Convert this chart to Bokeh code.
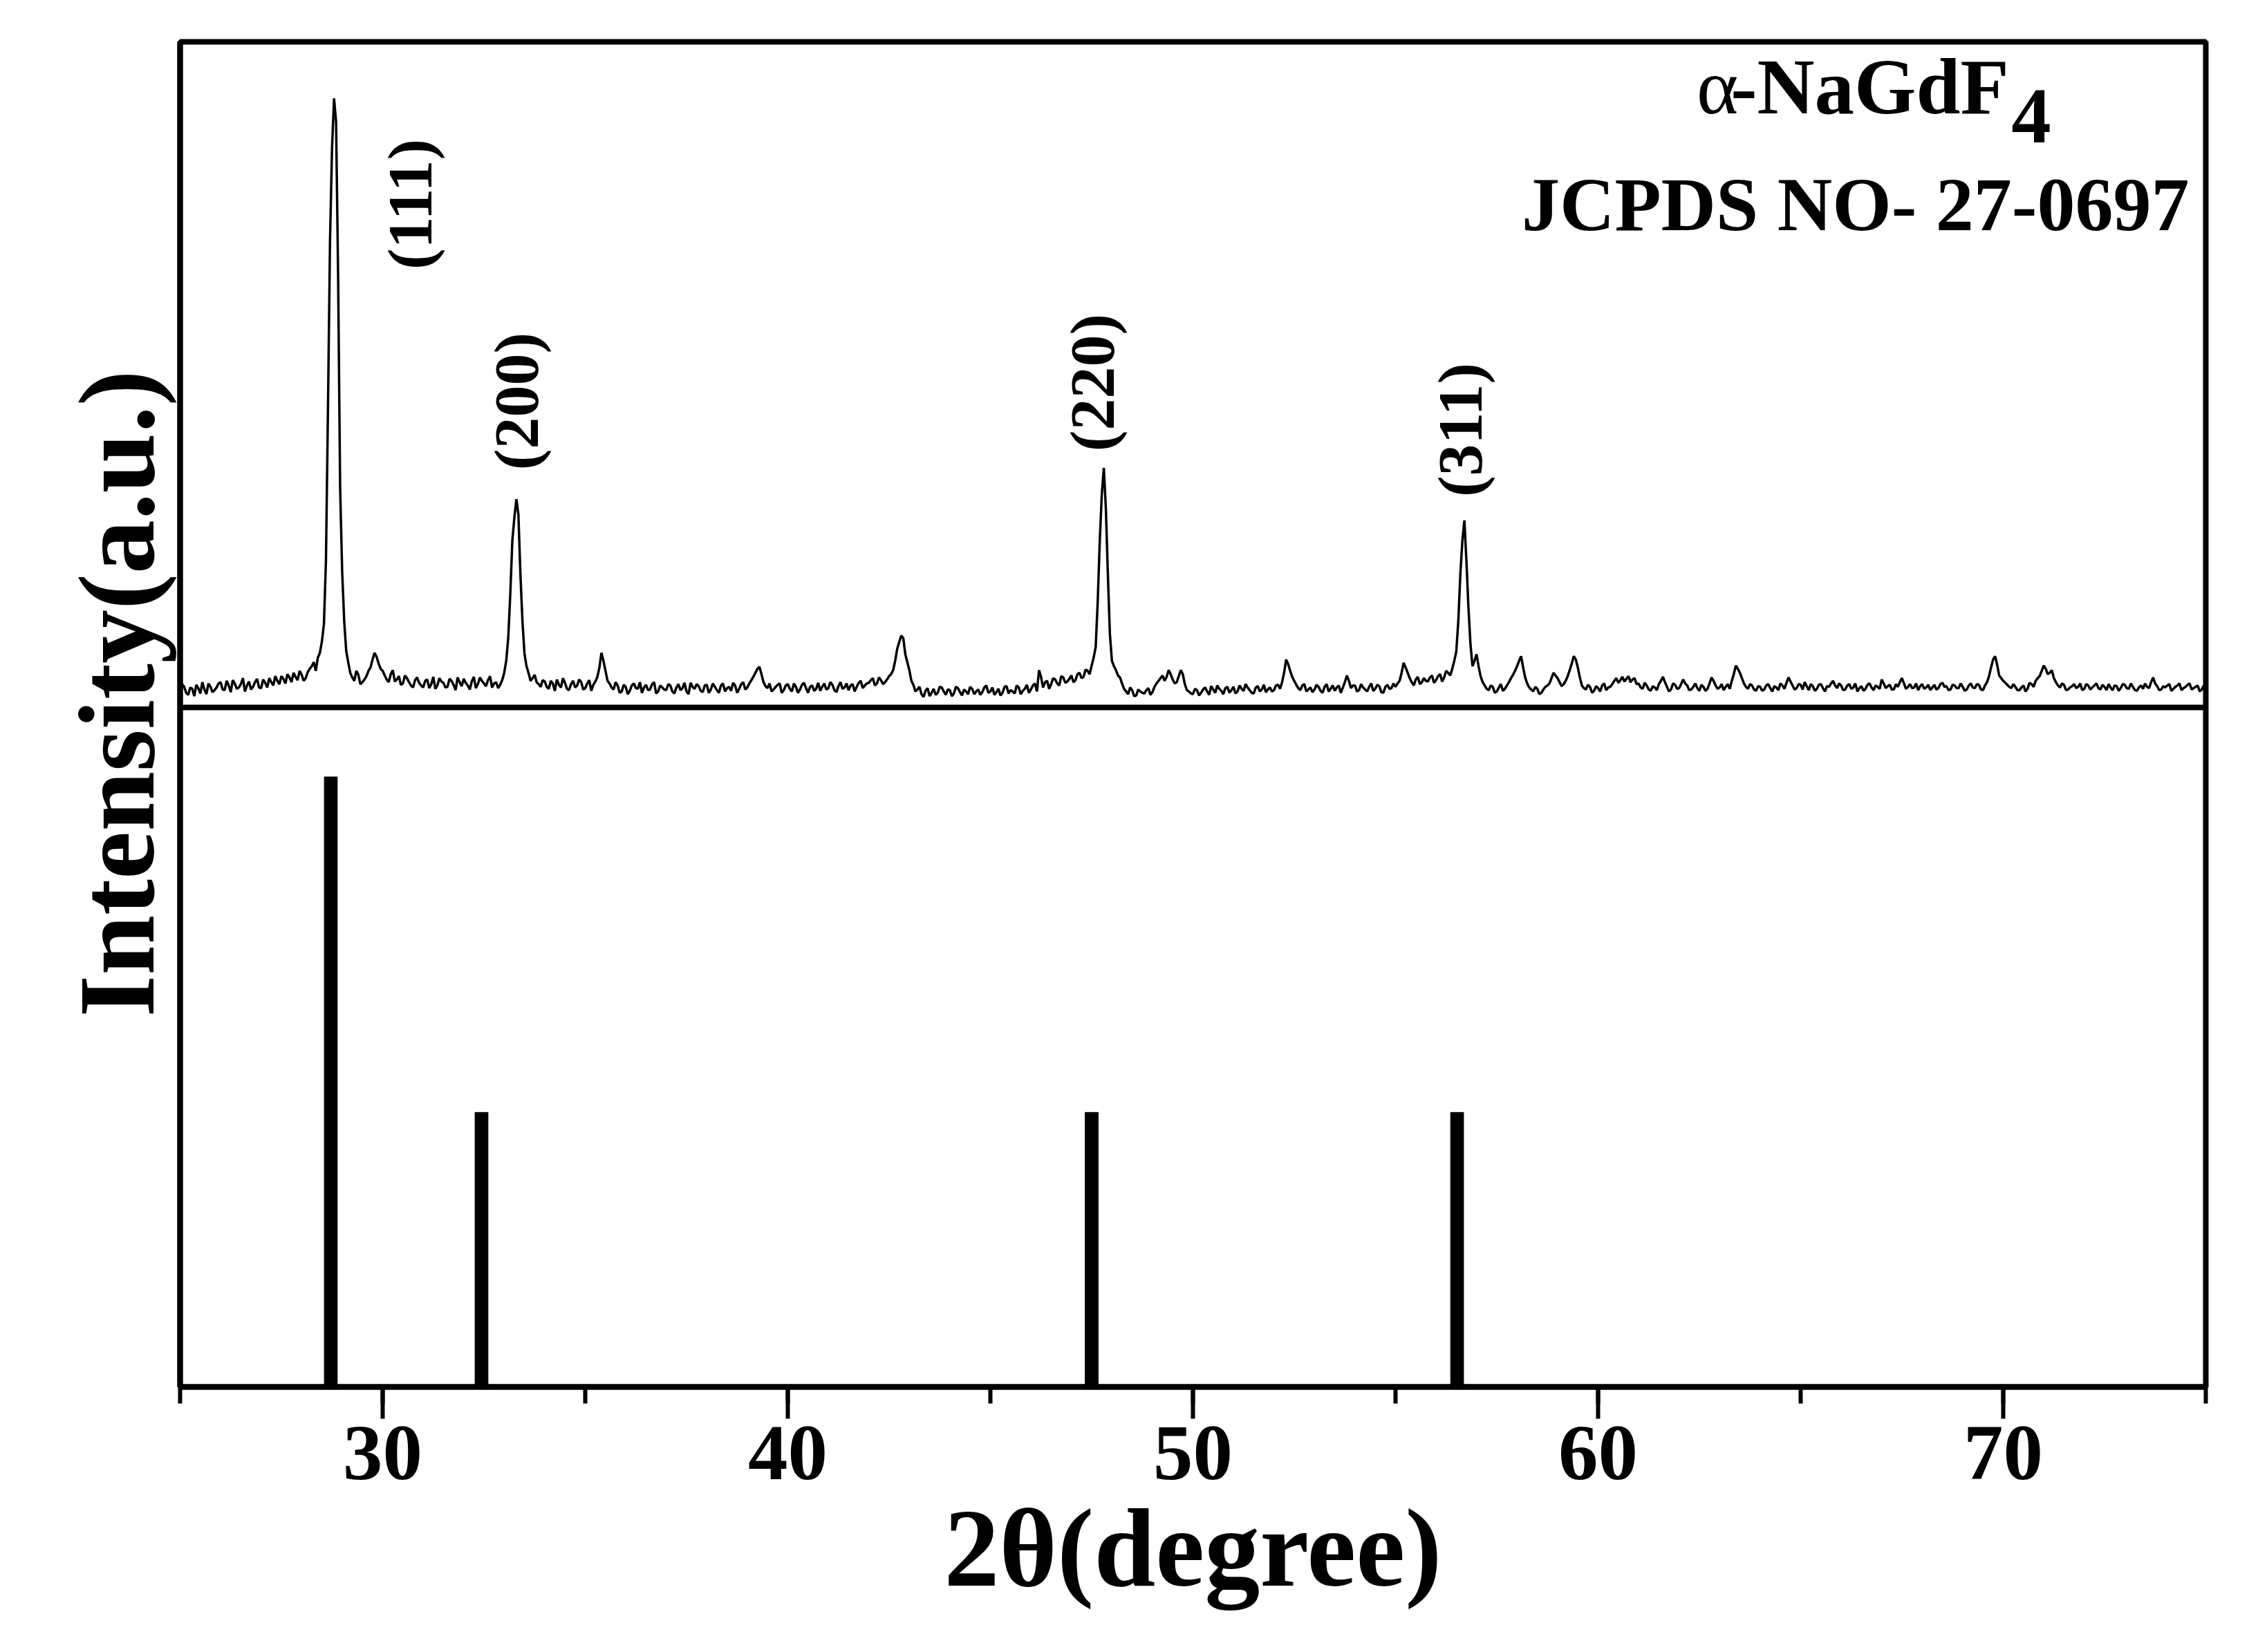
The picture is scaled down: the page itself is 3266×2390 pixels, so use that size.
import numpy as np
from bokeh.plotting import figure
from bokeh.models import Range1d, Span, SingleIntervalTicker, FixedTicker, ColumnDataSource, Title
from bokeh.core.properties import value
from bokeh.embed import file_html
from bokeh.resources import INLINE

# ---------------- data ----------------
# measured XRD pattern (counts, arbitrary units)
# rows: one per degree; "grid" values at d.0, d.1 ... d.9 ; "mid" values at d.05, d.15 ... d.95
two_theta_start = 25.0
two_theta_step = 0.1
intensity_grid_rows = [
    [24, 31, 19, 28, 34, 21, 27, 36, 23, 30],        # 25
    [38, 26, 33, 41, 28, 35, 24, 39, 31, 43],        # 26
    [29, 37, 44, 33, 40, 47, 36, 45, 52, 41],        # 27
    [49, 44, 58, 68, 75, 99, 220, 700, 915, 650],    # 28
    [205, 85, 52, 40, 49, 38, 47, 60, 82, 66],       # 29
    [55, 42, 50, 39, 47, 36, 44, 33, 41, 37],        # 30
    [30, 42, 35, 28, 44, 37, 31, 40, 26, 38],        # 31
    [43, 33, 39, 29, 45, 36, 41, 30, 38, 34],        # 32
    [52, 105, 250, 313, 200, 81, 52, 44, 38, 31],    # 33
    [39, 28, 36, 42, 30, 37, 26, 40, 33, 38],        # 34
    [29, 41, 34, 46, 82, 55, 36, 27, 33, 24],        # 35
    [31, 25, 36, 28, 22, 34, 27, 38, 24, 30],        # 36
    [26, 33, 21, 35, 29, 24, 37, 28, 32, 23],        # 37
    [34, 27, 31, 22, 36, 29, 25, 33, 28, 38],        # 38
    [30, 41, 52, 61, 38, 29, 24, 31, 36, 26],        # 39
    [35, 24, 31, 27, 37, 22, 33, 28, 25, 36],        # 40
    [29, 34, 23, 38, 30, 26, 35, 31, 40, 33],        # 41
    [37, 44, 36, 41, 38, 47, 56, 88, 108, 80],       # 42
    [56, 34, 27, 20, 25, 17, 28, 22, 30, 19],        # 43
    [26, 21, 29, 18, 24, 31, 20, 27, 23, 33],        # 44
    [24, 19, 28, 22, 32, 26, 21, 30, 25, 34],        # 45
    [27, 36, 56, 30, 40, 35, 42, 33, 45, 39],        # 46
    [48, 41, 52, 46, 55, 63, 91, 250, 360, 200],     # 47
    [70, 56, 45, 28, 20, 26, 18, 24, 21, 29],        # 48
    [23, 36, 44, 40, 56, 42, 38, 56, 35, 24],        # 49
    [20, 26, 22, 30, 19, 27, 33, 25, 29, 22],        # 50
    [31, 24, 28, 35, 26, 21, 32, 27, 23, 30],        # 51
    [26, 34, 38, 72, 55, 40, 29, 33, 24, 30],        # 52
    [27, 31, 22, 35, 28, 25, 33, 30, 48, 29],        # 53
    [33, 26, 30, 24, 36, 28, 32, 22, 34, 29],        # 54
    [31, 40, 67, 52, 38, 42, 35, 44, 39, 48],        # 55
    [41, 50, 45, 52, 58, 84, 200, 281, 150, 62],     # 56
    [80, 47, 33, 26, 31, 24, 35, 28, 38, 49],        # 57
    [62, 77, 45, 30, 24, 28, 22, 31, 36, 52],        # 58
    [44, 32, 40, 56, 77, 60, 33, 27, 31, 25],        # 59
    [29, 33, 26, 31, 40, 37, 46, 43, 38, 44],        # 60
    [36, 28, 33, 25, 30, 35, 46, 31, 27, 34],        # 61
    [29, 42, 33, 27, 36, 25, 31, 28, 45, 33],        # 62
    [30, 26, 35, 40, 63, 52, 36, 28, 33, 25],        # 63
    [31, 27, 35, 24, 30, 36, 28, 45, 33, 29],        # 64
    [34, 38, 26, 32, 28, 35, 24, 31, 40, 29],        # 65
    [33, 27, 35, 30, 24, 32, 28, 36, 26, 31],        # 66
    [42, 29, 34, 27, 31, 44, 28, 35, 30, 26],        # 67
    [35, 30, 26, 34, 29, 37, 32, 27, 33, 29],        # 68
    [31, 27, 36, 29, 34, 26, 38, 60, 77, 48],        # 69
    [40, 34, 29, 31, 26, 33, 28, 35, 40, 47],        # 70
    [63, 50, 56, 38, 30, 34, 27, 32, 29, 36],        # 71
    [28, 33, 30, 36, 27, 31, 35, 26, 32, 29],        # 72
    [34, 28, 31, 25, 33, 36, 29, 45, 32, 27],        # 73
    [30, 35, 28, 33, 26, 31, 36, 29, 33, 27],        # 74
    [30],                                            # 75.0
]
intensity_mid_rows = [
    [35, 22, 30, 17, 29, 38, 20, 31, 26, 36],        # 25.05 ...
    [27, 40, 23, 36, 30, 44, 33, 27, 38, 30],        # 26
    [42, 30, 38, 47, 35, 43, 50, 38, 46, 55],        # 27
    [40, 53, 62, 55, 82, 125, 450, 840, 880, 330],   # 28
    [130, 68, 45, 55, 35, 42, 55, 72, 76, 58],       # 29
    [48, 38, 56, 42, 34, 48, 38, 30, 45, 33],        # 30
    [40, 29, 46, 33, 39, 30, 43, 34, 45, 32],        # 31
    [37, 27, 46, 35, 40, 32, 47, 36, 29, 41],        # 32
    [70, 170, 285, 290, 130, 62, 40, 49, 35, 41],    # 33
    [31, 40, 25, 34, 44, 28, 35, 30, 42, 27],        # 34
    [36, 25, 39, 60, 70, 40, 30, 38, 22, 34],        # 35
    [20, 33, 29, 38, 30, 26, 35, 21, 33, 27],        # 36
    [35, 24, 30, 26, 37, 20, 31, 35, 25, 33],        # 37
    [22, 36, 26, 33, 24, 31, 37, 22, 35, 27],        # 38
    [36, 46, 58, 50, 32, 36, 27, 34, 22, 33],        # 39
    [28, 36, 22, 34, 29, 31, 25, 37, 31, 27],        # 40
    [38, 26, 32, 28, 36, 33, 24, 37, 29, 36],        # 41
    [41, 33, 45, 35, 42, 50, 70, 98, 104, 68],       # 42
    [40, 24, 31, 16, 29, 22, 19, 31, 24, 27],        # 43
    [17, 31, 23, 27, 20, 28, 24, 19, 30, 22],        # 44
    [30, 23, 18, 31, 21, 24, 33, 20, 28, 22],        # 45
    [33, 24, 46, 38, 28, 44, 36, 47, 37, 43],        # 46
    [38, 50, 44, 57, 50, 75, 160, 320, 300, 110],    # 47
    [62, 48, 36, 24, 30, 17, 27, 22, 26, 19],        # 48
    [31, 40, 48, 46, 50, 36, 47, 50, 26, 21],        # 49
    [28, 18, 27, 24, 32, 22, 28, 20, 31, 26],        # 50
    [21, 33, 25, 30, 22, 30, 24, 34, 27, 24],        # 51
    [33, 28, 52, 65, 46, 34, 26, 35, 27, 23],        # 52
    [34, 25, 31, 24, 33, 30, 22, 38, 40, 33],        # 53
    [24, 35, 27, 31, 25, 34, 23, 31, 28, 36],        # 54
    [36, 52, 60, 44, 33, 46, 38, 40, 45, 37],        # 55
    [47, 39, 55, 48, 70, 130, 250, 220, 95, 70],     # 56
    [62, 38, 28, 33, 22, 30, 25, 33, 44, 55],        # 57
    [70, 60, 36, 27, 31, 20, 27, 33, 44, 48],        # 58
    [38, 35, 47, 66, 72, 45, 29, 34, 22, 32],        # 59
    [24, 36, 30, 35, 44, 41, 39, 47, 42, 35],        # 60
    [30, 37, 27, 32, 26, 40, 38, 24, 36, 28],        # 61
    [35, 36, 26, 31, 29, 34, 25, 36, 40, 28],        # 62
    [35, 31, 28, 50, 58, 44, 31, 35, 27, 32],        # 63
    [25, 33, 29, 32, 26, 33, 37, 39, 27, 35],        # 64
    [27, 32, 35, 25, 34, 29, 32, 36, 33, 36],        # 65
    [26, 33, 28, 36, 29, 25, 34, 30, 33, 28],        # 66
    [36, 32, 27, 35, 38, 36, 31, 29, 36, 32],        # 67
    [28, 34, 30, 27, 35, 31, 26, 34, 29, 36],        # 68
    [25, 33, 30, 35, 27, 33, 47, 72, 64, 44],        # 69
    [37, 31, 35, 26, 30, 24, 37, 31, 44, 55],        # 70
    [58, 52, 44, 33, 36, 26, 30, 35, 31, 26],        # 71
    [35, 27, 33, 29, 34, 26, 30, 33, 25, 35],        # 72
    [29, 36, 26, 30, 28, 31, 38, 36, 26, 32],        # 73
    [33, 25, 31, 36, 29, 34, 27, 31, 24, 33],        # 74
]

# JCPDS 27-0697 reference lines
ref_two_theta = [28.72, 32.44, 47.50, 56.52]
ref_intensity = [100, 45, 45, 45]

# Miller-index labels
hkl_labels = ["(111)", "(200)", "(220)", "(311)"]
hkl_label_x = [30.67, 33.31, 47.51, 56.60]
hkl_label_y = [756, 460, 488, 417]

# assemble the pattern: grid point, then the mid point after it
grid_vals = [v for row in intensity_grid_rows for v in row]
mid_vals = [v for row in intensity_mid_rows for v in row]
two_theta, intensity = [], []
for i, g in enumerate(grid_vals):
    two_theta.append(round(two_theta_start + i * two_theta_step, 3))
    intensity.append(g)
    if i < len(mid_vals):
        two_theta.append(round(two_theta_start + (i + 0.5) * two_theta_step, 3))
        intensity.append(mid_vals[i])

# ---------------- figure ----------------
SERIF = value("Liberation Serif")

p = figure(width=3250, height=2374,
           x_range=Range1d(25, 75), y_range=Range1d(0, 220.5),
           output_backend="svg", toolbar_location=None,
           min_border_left=260, min_border_right=60,
           min_border_top=60, min_border_bottom=368)
p.extra_y_ranges = {"xrd": Range1d(-1020.8, 1000)}
p.grid.visible = False
p.background_fill_color = "white"
p.border_fill_color = "white"
p.outline_line_color = "black"
p.outline_line_width = 8
p.outline_line_alpha = 1.0

# x axis
xa = p.xaxis[0]
xa.ticker = SingleIntervalTicker(interval=10, num_minor_ticks=2)
xa.axis_line_width = 8
xa.axis_line_color = "black"
xa.major_tick_out = 46
xa.major_tick_in = 0
xa.minor_tick_out = 24
xa.minor_tick_in = 0
xa.major_tick_line_width = 6
xa.minor_tick_line_width = 6
xa.major_tick_line_color = "black"
xa.minor_tick_line_color = "black"
xa.major_label_text_font = "Liberation Serif"
xa.major_label_text_font_style = "bold"
xa.major_label_text_font_size = "115px"
xa.major_label_text_color = "black"
xa.major_label_standoff = 12
xa.axis_label = "2θ(degree)"
xa.axis_label_text_font = "Liberation Serif"
xa.axis_label_text_font_style = "bold"
xa.axis_label_text_font_size = "160px"
xa.axis_label_text_color = "black"
xa.axis_label_standoff = 8

# y axis (no ticks); its title is a side Title so it can sit slightly above centre
ya = p.yaxis[0]
ya.ticker = FixedTicker(ticks=[])
ya.axis_line_width = 8
ya.axis_line_color = "black"
ya.major_tick_out = 0
ya.major_tick_in = 0
ya.major_tick_line_color = None
ya.minor_tick_line_color = None
ya.major_label_text_font_size = "0px"

ytitle = Title(text="Intensity(a.u.)", align="left", offset=535,
               text_font="Liberation Serif", text_font_style="bold",
               text_font_size="156px", text_color="black")
p.add_layout(ytitle, "left")

# divider between the two panels (count 0 of the measured pattern)
p.add_layout(Span(location=0, dimension="width", y_range_name="xrd",
                  line_color="black", line_width=8))

# measured pattern
p.line(two_theta, intensity, y_range_name="xrd", line_color="black", line_width=3.5)

# reference bars
p.vbar(x=ref_two_theta, top=ref_intensity, bottom=0, width=0.32,
       fill_color="black", line_color="black")

# hkl labels
lab_src = ColumnDataSource(dict(x=hkl_label_x, y=hkl_label_y, t=hkl_labels))
p.text(x="x", y="y", text="t", source=lab_src, y_range_name="xrd",
       angle=np.pi / 2, text_align="center", text_baseline="middle",
       text_font=SERIF, text_font_style="bold", text_font_size="92px",
       text_color="black")

# phase / card annotations
p.text(x=[63.46], y=[932], text=["α"], y_range_name="xrd",
       text_align="right", text_baseline="alphabetic",
       text_font=SERIF, text_font_style="normal", text_font_size="115px",
       text_color="black")
p.text(x=[70.14], y=[932], text=["-NaGdF"], y_range_name="xrd",
       text_align="right", text_baseline="alphabetic",
       text_font=SERIF, text_font_style="bold", text_font_size="115px",
       text_color="black")
p.text(x=[70.20], y=[888], text=["4"], y_range_name="xrd",
       text_align="left", text_baseline="alphabetic",
       text_font=SERIF, text_font_style="bold", text_font_size="115px",
       text_color="black")
p.text(x=[74.59], y=[755], text=["JCPDS NO- 27-0697"], y_range_name="xrd",
       text_align="right", text_baseline="alphabetic",
       text_font=SERIF, text_font_style="bold", text_font_size="110px",
       text_color="black")

open("out.html", "w").write(file_html(p, INLINE))
